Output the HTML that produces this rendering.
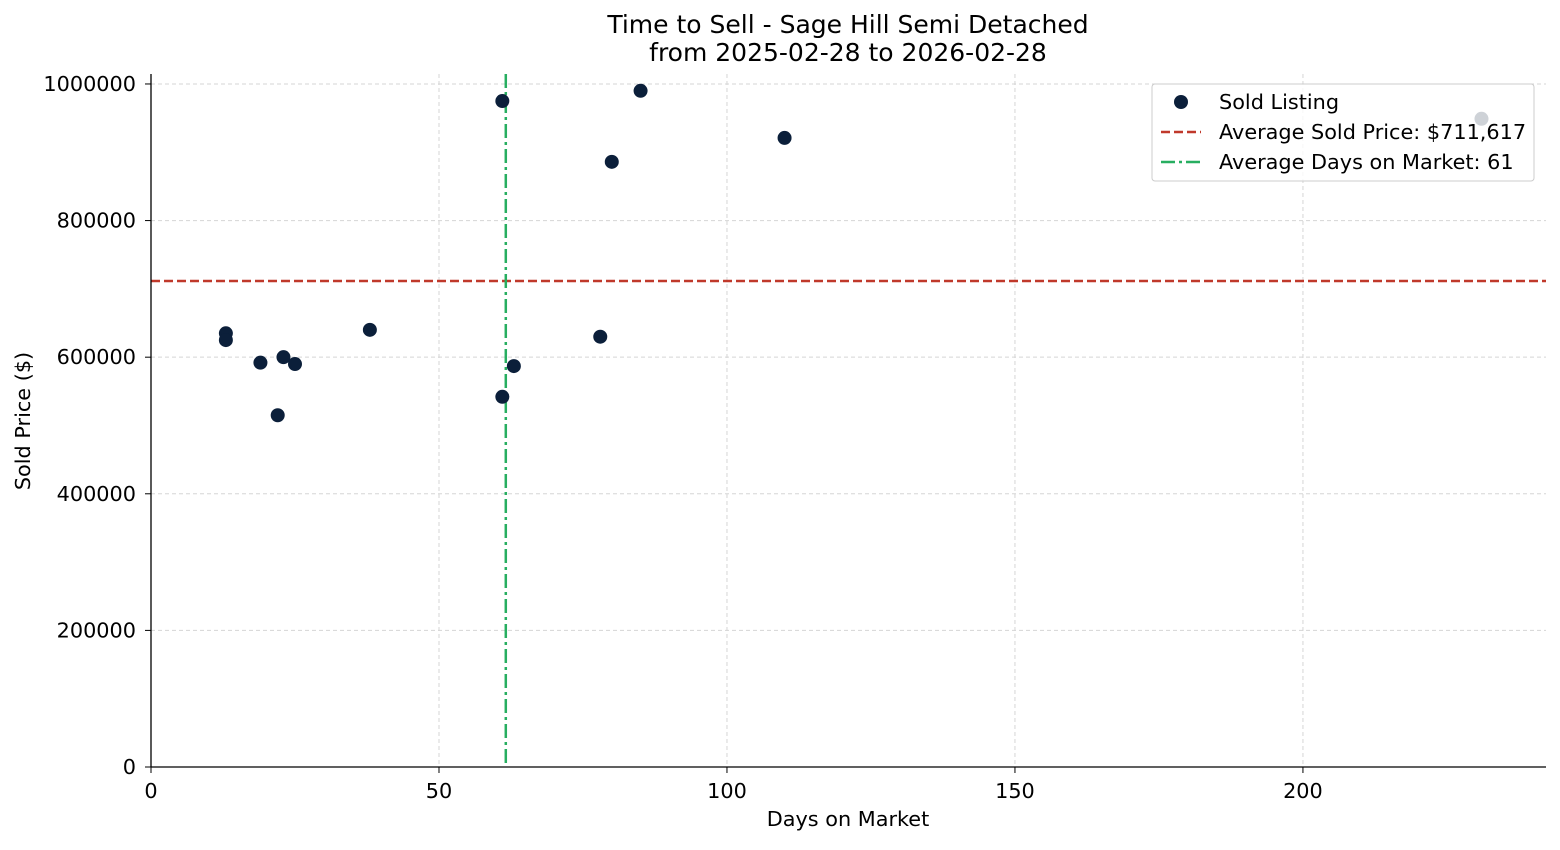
<!DOCTYPE html>
<html><head><meta charset="utf-8"><style>
body{margin:0;background:#fff;font-family:"Liberation Sans","DejaVu Sans",sans-serif}
</style></head><body>
<svg id="chart" width="1560" height="845" xmlns="http://www.w3.org/2000/svg" font-family="DejaVu Sans, Liberation Sans, sans-serif">
<g id="grid"></g>
<g id="lines"></g>
<g id="points"></g>
<g id="axes"></g>
<text x="848" y="33" text-anchor="middle" font-size="25" fill="#000">Time to Sell - Sage Hill Semi Detached</text>
<text x="848" y="61" text-anchor="middle" font-size="25" fill="#000">from 2025-02-28 to 2026-02-28</text>
<text x="848" y="826" text-anchor="middle" font-size="20.8">Days on Market</text>
<text transform="translate(30,421) rotate(-90)" text-anchor="middle" font-size="20.8">Sold Price ($)</text>
<g>
<rect x="1152" y="84" width="382" height="97" rx="3" fill="#fff" fill-opacity="0.8" stroke="#ccc"/>
<circle cx="1181" cy="102" r="7" fill="#0b1f3a"/>
<text x="1219" y="109" font-size="20.8">Sold Listing</text>
<line x1="1161" y1="132" x2="1201" y2="132" stroke="#c0392b" stroke-width="2.5" stroke-dasharray="9,4"/>
<text x="1219" y="139" font-size="20.8">Average Sold Price: $711,617</text>
<line x1="1161" y1="162" x2="1201" y2="162" stroke="#27ae60" stroke-width="2.5" stroke-dasharray="14,4,3,4"/>
<text x="1219" y="169" font-size="20.8">Average Days on Market: 61</text>
</g>
</svg>
<script>
const days=[13,13,19,22,23,25,38,61,61,63,78,80,85,110,231];
const prices=[635000,625000,592000,515000,600000,590000,640000,975000,542000,587000,630000,886000,990000,921000,949000];
const xTicks=[0,50,100,150,200];
const yTicks=[0,200000,400000,600000,800000,1000000];
const avgPrice=711617;
const avgDays=61.6;
const L=151,R=1546,T=74,B=767;
const xMax=242.2,yMax=1014600;
const X=v=>L+v/xMax*(R-L);
const Y=v=>B-v/yMax*(B-T);
const NS="http://www.w3.org/2000/svg";
function mk(tag,attrs,parent){const e=document.createElementNS(NS,tag);for(const k in attrs)e.setAttribute(k,attrs[k]);document.getElementById(parent).appendChild(e);return e;}
xTicks.forEach(t=>{
 const g=mk('line',{x1:X(t),x2:X(t),y1:T,y2:B,stroke:'#d5d5d5','stroke-dasharray':'4,3','stroke-width':1},'grid');
 
 
 mk('line',{x1:X(t),x2:X(t),y1:B,y2:B+6,stroke:'#000'},'axes');
 const tx=mk('text',{x:X(t),y:B+31,'text-anchor':'middle','font-size':20.8},'axes');tx.textContent=t;
 
 
});
yTicks.forEach(t=>{
 const g=mk('line',{x1:L,x2:R,y1:Y(t),y2:Y(t),stroke:'#d5d5d5','stroke-dasharray':'4,3','stroke-width':1},'grid');
 
 
 mk('line',{x1:L-6,x2:L,y1:Y(t),y2:Y(t),stroke:'#000'},'axes');
 const tx=mk('text',{x:L-15,y:Y(t)+7,'text-anchor':'end','font-size':20.8},'axes');tx.textContent=t;
 
 
});
mk('line',{x1:L,x2:L,y1:T,y2:B,stroke:'#000','stroke-width':1.3},'axes');
mk('line',{x1:L,x2:R,y1:B,y2:B,stroke:'#000','stroke-width':1.3},'axes');
const hl=mk('line',{x1:L,x2:R,y1:Y(avgPrice),y2:Y(avgPrice),stroke:'#c0392b','stroke-width':2.5,'stroke-dasharray':'9,4'},'lines');


const vl=mk('line',{x1:X(avgDays),x2:X(avgDays),y1:T,y2:B,stroke:'#27ae60','stroke-width':2.5,'stroke-dasharray':'14,4,3,4'},'lines');


days.forEach((d,i)=>{
 const c=mk('circle',{cx:X(d),cy:Y(prices[i]),r:7,fill:'#0b1f3a'},'points');
 
 
});
</script>
</body></html>
